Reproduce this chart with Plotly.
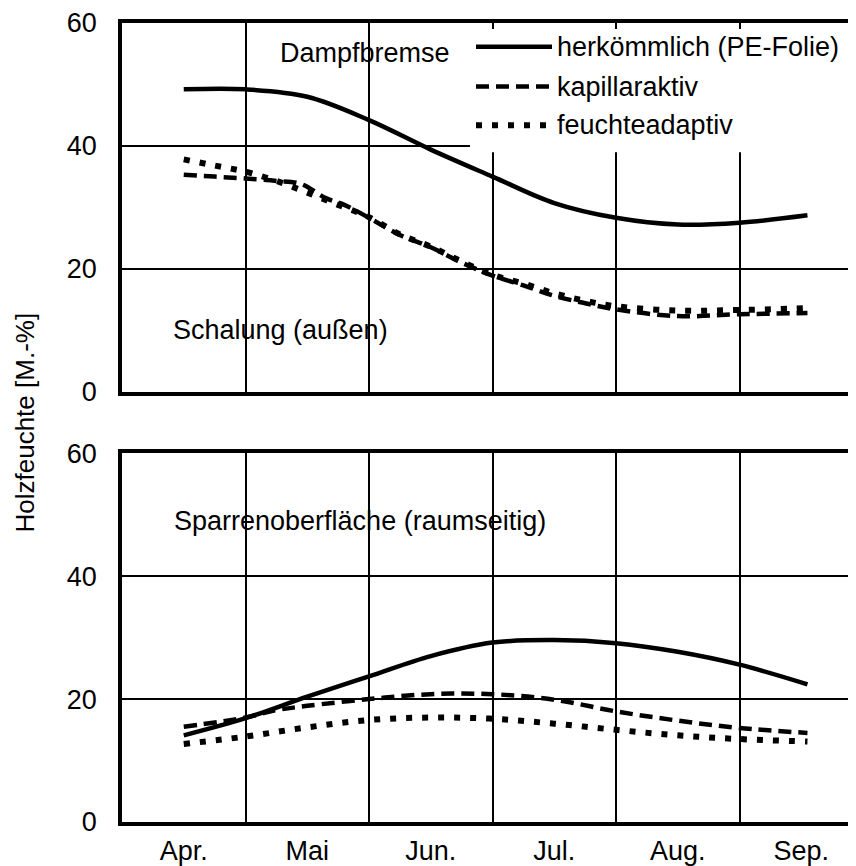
import plotly.graph_objects as go

# ---------------- data ----------------
months = ["Apr.", "Mai", "Jun.", "Jul.", "Aug.", "Sep."]
month_centers = [0.5, 1.5, 2.5, 3.5, 4.5, 5.5]
month_bounds = [1, 2, 3, 4, 5]

series_names = ["herkömmlich (PE-Folie)", "kapillaraktiv", "feuchteadaptiv"]

# Top panel: Schalung (außen)
top_herk_x = [0.5, 1.0, 1.5, 2.0, 2.5, 3.0, 3.5, 4.0, 4.5, 5.0, 5.55]
top_herk_y = [49.2, 49.2, 48.0, 44.2, 39.4, 35.0, 30.7, 28.3, 27.2, 27.5, 28.7]

top_kap_x = [0.5, 0.75, 1.0, 1.25, 1.45, 1.65, 1.8, 2.0, 2.25, 2.5, 2.75, 3.0,
             3.25, 3.5, 3.75, 4.0, 4.5, 5.0, 5.55]
top_kap_y = [35.3, 35.0, 34.7, 34.3, 33.8, 31.5, 30.4, 28.3, 25.5, 23.5, 21.0, 18.9,
             17.3, 15.6, 14.4, 13.4, 12.3, 12.6, 12.8]

top_feu_x = [0.5, 0.75, 1.0, 1.25, 1.5, 1.75, 2.0, 2.25, 2.5, 2.75, 3.0, 3.25,
             3.5, 3.75, 4.0, 4.5, 5.0, 5.55]
top_feu_y = [37.8, 36.8, 35.8, 34.3, 32.4, 30.4, 28.4, 25.6, 23.6, 21.2, 19.0, 17.6,
             16.0, 14.8, 13.9, 13.2, 13.3, 13.6]

# Bottom panel: Sparrenoberfläche (raumseitig)
bot_herk_x = [0.5, 1.0, 1.5, 2.0, 2.5, 3.0, 3.5, 4.0, 4.5, 5.0, 5.55]
bot_herk_y = [14.1, 16.9, 20.4, 23.7, 27.0, 29.2, 29.6, 29.1, 27.7, 25.6, 22.4]

bot_kap_x = [0.5, 1.0, 1.25, 1.5, 2.0, 2.5, 3.0, 3.5, 4.0, 4.5, 5.0, 5.55]
bot_kap_y = [15.5, 17.0, 18.2, 18.9, 20.0, 20.8, 20.8, 19.9, 18.0, 16.5, 15.3, 14.5]

bot_feu_x = [0.5, 1.0, 1.5, 2.0, 2.5, 3.0, 3.5, 4.0, 4.5, 5.0, 5.55]
bot_feu_y = [12.7, 13.9, 15.4, 16.6, 17.0, 16.8, 16.0, 15.0, 14.1, 13.5, 13.1]

y_ticks = [0, 20, 40, 60]

# ---------------- styles ----------------
FONT = "Liberation Sans, Arial, Helvetica, sans-serif"
FS = 27
LW = 4.5
styles = [
    dict(color="black", width=LW, dash="solid"),
    dict(color="black", width=LW, dash="13px,7px"),
    dict(color="black", width=6, dash="6px,10px"),
]

fig = go.Figure()

top = [(top_herk_x, top_herk_y), (top_kap_x, top_kap_y), (top_feu_x, top_feu_y)]
bot = [(bot_herk_x, bot_herk_y), (bot_kap_x, bot_kap_y), (bot_feu_x, bot_feu_y)]

for (xs, ys), st, nm in zip(top, styles, series_names):
    fig.add_trace(go.Scatter(x=xs, y=ys, mode="lines", name=nm, line=dict(shape="spline", **st),
                             showlegend=False, xaxis="x", yaxis="y"))
for (xs, ys), st, nm in zip(bot, styles, series_names):
    fig.add_trace(go.Scatter(x=xs, y=ys, mode="lines", name=nm, line=dict(shape="spline", **st),
                             showlegend=False, xaxis="x2", yaxis="y2"))

# The page body has an 8px margin, so the figure is drawn 8px right/down.
OFF = 8
W, H = 856 - OFF, 866 - OFF
PL, PR = 122 - OFF, 856 - OFF          # plot left/right in figure px
PT, PB = 22 - OFF, 826 - OFF           # top of top panel / bottom of bottom panel
PW = PR - PL
PH = PB - PT

XMAX = 5.943
xcommon = dict(
    range=[0, XMAX], showline=True, linecolor="black", linewidth=3.5, mirror=True,
    tickvals=month_centers, ticktext=months, showgrid=False, zeroline=False,
    ticks="", tickfont=dict(family=FONT, size=FS, color="black"),
    minor=dict(tickvals=month_bounds, showgrid=True, gridcolor="black", gridwidth=2, ticks=""),
)
ycommon = dict(
    range=[0, 60], tickvals=y_ticks, showline=True, linecolor="black", linewidth=3.5,
    showgrid=True, gridcolor="black", gridwidth=2, zeroline=False, ticks="",
    tickfont=dict(family=FONT, size=FS, color="black"), ticklabelstandoff=16,
)

TOP_DOM = [(826 - 393) / PH, 1.0]
BOT_DOM = [0.0, (826 - 455) / PH]

fig.update_layout(
    width=W, height=H,
    margin=dict(l=PL, r=W - PR, t=PT, b=H - PB),
    paper_bgcolor="white", plot_bgcolor="white",
    font=dict(family=FONT, size=FS, color="black"),
    xaxis=dict(**xcommon, anchor="y", showticklabels=False),
    yaxis=dict(**ycommon, domain=TOP_DOM, anchor="x"),
    xaxis2=dict(**xcommon, anchor="y2", ticklabelstandoff=2),
    yaxis2=dict(**ycommon, domain=BOT_DOM, anchor="x2"),
    showlegend=False,
)

# helpers: convert reference page pixels to data coordinates
px_per_m = PW / XMAX
px_per_v = 371 / 60.0
def mx(p):
    return (p - 122) / px_per_m
def vy(p):
    return (393 - p) / px_per_v

# custom legend (white box over grid + long line samples)
fig.add_shape(type="rect", xref="x", yref="y", x0=mx(470), x1=XMAX, y0=vy(152), y1=vy(28),
              fillcolor="white", line=dict(width=0), layer="above")
rows = [46, 86, 125]
for st, nm, r in zip(styles, series_names, rows):
    fig.add_shape(type="line", xref="x", yref="y", x0=mx(476), x1=mx(552), y0=vy(r), y1=vy(r),
                  line=st, layer="above")
    fig.add_annotation(x=mx(555), y=vy(r), xref="x", yref="y", text=nm, showarrow=False,
                       xanchor="left", yanchor="middle", font=dict(family=FONT, size=FS, color="black"))

# panel labels
fig.add_annotation(x=mx(278), y=vy(52), xref="x", yref="y", text="Dampfbremse", showarrow=False,
                   xanchor="left", yanchor="middle", font=dict(family=FONT, size=FS, color="black"))
fig.add_annotation(x=mx(171), y=vy(331), xref="x", yref="y", text="Schalung (außen)", showarrow=False,
                   xanchor="left", yanchor="middle", font=dict(family=FONT, size=FS, color="black"))
fig.add_annotation(x=mx(172), y=(826 - 523) / px_per_v, xref="x2", yref="y2",
                   text="Sparrenoberfläche (raumseitig)", showarrow=False,
                   xanchor="left", yanchor="middle", font=dict(family=FONT, size=FS, color="black"))

# y-axis title
fig.add_annotation(x=(24 - 122) / PW, y=0.5, xref="paper", yref="paper", text="Holzfeuchte [M.-%]",
                   textangle=-90, showarrow=False, xanchor="center", yanchor="middle",
                   font=dict(family=FONT, size=26, color="black"))

fig.write_html("out.html")
